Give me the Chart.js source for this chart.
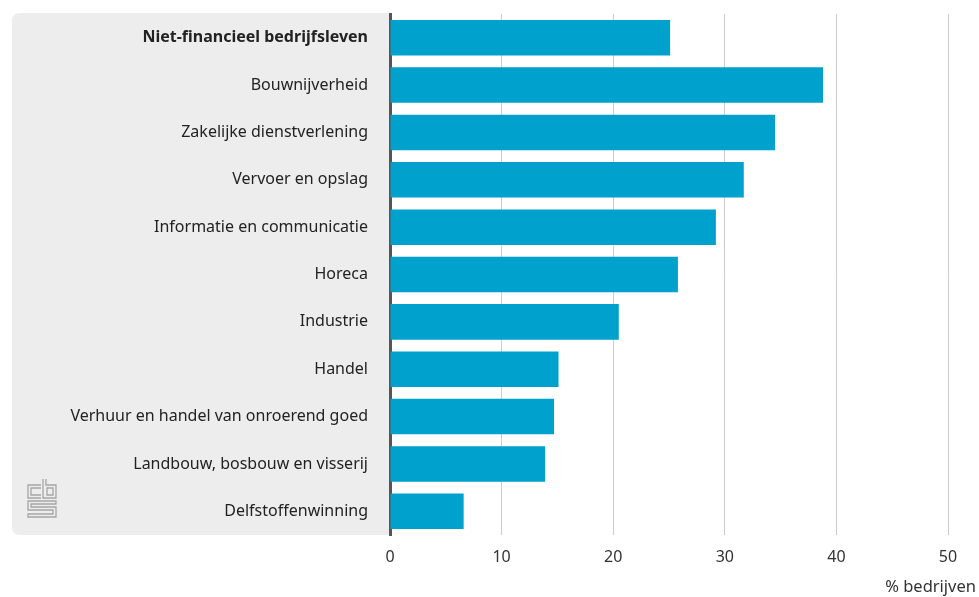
<!DOCTYPE html>
<html>
<head>
<meta charset="utf-8">
<script src="https://cdn.jsdelivr.net/npm/chart.js@4/dist/chart.umd.min.js"></script>
<style>
  html, body { margin: 0; padding: 0; background: #fff; }
  #wrap { width: 979px; height: 597px; }
</style>
</head>
<body>
<div id="wrap"><canvas id="dataChart" width="979" height="597"></canvas></div>
<script>
const categories = [
    "Niet-financieel bedrijfsleven",
    "Bouwnijverheid",
    "Zakelijke dienstverlening",
    "Vervoer en opslag",
    "Informatie en communicatie",
    "Horeca",
    "Industrie",
    "Handel",
    "Verhuur en handel van onroerend goed",
    "Landbouw, bosbouw en visserij",
    "Delfstoffenwinning"
];
const values = [25.1, 38.8, 34.5, 31.7, 29.2, 25.8, 20.5, 15.1, 14.7, 13.9, 6.6];
const xTicks = [0, 10, 20, 30, 40, 50];
const axisTitle = "% bedrijven";

const FONT = "'Noto Sans', sans-serif";

// grey panel behind the category labels + cbs logo + axis title
const panelPlugin = {
    id: 'panel',
    beforeDraw(chart) {
        const ctx = chart.ctx;
        const area = chart.chartArea;
        const x0 = 12, y0 = area.top - 1, x1 = area.left, y1 = area.bottom;
        const r = 8;
        ctx.save();
        ctx.fillStyle = '#ededed';
        ctx.beginPath();
        ctx.moveTo(x1, y0);
        ctx.lineTo(x0 + r, y0);
        ctx.quadraticCurveTo(x0, y0, x0, y0 + r);
        ctx.lineTo(x0, y1 - r);
        ctx.quadraticCurveTo(x0, y1, x0 + r, y1);
        ctx.lineTo(x1, y1);
        ctx.closePath();
        ctx.fill();

        // logo
        ctx.strokeStyle = '#a5a5a5';
        ctx.lineWidth = 1.3;
        const lx = 28, ly = 479;
        ctx.beginPath();
        // c
        ctx.moveTo(lx + 13, ly + 6); ctx.lineTo(lx, ly + 6); ctx.lineTo(lx, ly + 19); ctx.lineTo(lx + 13, ly + 19);
        ctx.moveTo(lx + 13, ly + 9); ctx.lineTo(lx + 3, ly + 9); ctx.lineTo(lx + 3, ly + 16); ctx.lineTo(lx + 13, ly + 16);
        // b
        ctx.moveTo(lx + 15, ly); ctx.lineTo(lx + 15, ly + 19); ctx.lineTo(lx + 28, ly + 19); ctx.lineTo(lx + 28, ly + 6); ctx.lineTo(lx + 18, ly + 6); ctx.lineTo(lx + 18, ly);
        ctx.rect(lx + 19, ly + 9, 6, 7);
        // S
        ctx.moveTo(lx + 28, ly + 22); ctx.lineTo(lx, ly + 22); ctx.lineTo(lx, ly + 31); ctx.lineTo(lx + 25, ly + 31); ctx.lineTo(lx + 25, ly + 35); ctx.lineTo(lx, ly + 35); ctx.lineTo(lx, ly + 38); ctx.lineTo(lx + 28, ly + 38); ctx.lineTo(lx + 28, ly + 28); ctx.lineTo(lx + 3, ly + 28); ctx.lineTo(lx + 3, ly + 25); ctx.lineTo(lx + 28, ly + 25); ctx.closePath();
        ctx.stroke();
        ctx.restore();
    },
    afterDraw(chart) {
        const ctx = chart.ctx;
        ctx.save();
        ctx.fillStyle = '#333';
        ctx.font = "16.5px " + FONT;
        ctx.textAlign = 'right';
        ctx.textBaseline = 'middle';
        ctx.fillText(axisTitle, chart.width - 3, 587);
        ctx.restore();
    }
};

const data = {
    labels: categories,
    datasets: [{
        label: 'bedrijven',
        data: values,
        backgroundColor: '#00a1cd',
        borderWidth: 0,
        barPercentage: 0.75,
        categoryPercentage: 1.0
    }]
};

const config = {
    type: 'bar',
    data: data,
    options: {
        indexAxis: 'y',
        responsive: false,
        animation: false,
        layout: { padding: { top: 14, right: 31, left: 0, bottom: 0 } },
        plugins: {
            legend: { display: false },
            tooltip: { enabled: false }
        },
        scales: {
            x: {
                min: 0,
                max: 50,
                afterBuildTicks(scale) { scale.ticks = xTicks.map(v => ({ value: v })); },
                afterFit(scale) { scale.height = 62; scale.paddingLeft = 0; scale.paddingRight = 0; },
                grid: {
                    color: '#cccccc',
                    lineWidth: 1,
                    drawTicks: false
                },
                border: { display: false },
                ticks: {
                    color: '#333',
                    padding: 13,
                    font: { family: FONT, size: 16 }
                }
            },
            y: {
                afterFit(scale) { scale.width = 390; scale.paddingTop = 0; scale.paddingBottom = 0; },
                grid: { display: false, drawTicks: false },
                border: { display: true, color: '#555', width: 3 },
                ticks: {
                    color: '#222',
                    padding: 22,
                    font: (c) => ({
                        family: FONT,
                        size: 16,
                        weight: c.index === 0 ? 'bold' : 'normal'
                    })
                }
            }
        }
    },
    plugins: [panelPlugin]
};

const dataChart = new Chart(document.getElementById('dataChart'), config);
</script>
</body>
</html>
